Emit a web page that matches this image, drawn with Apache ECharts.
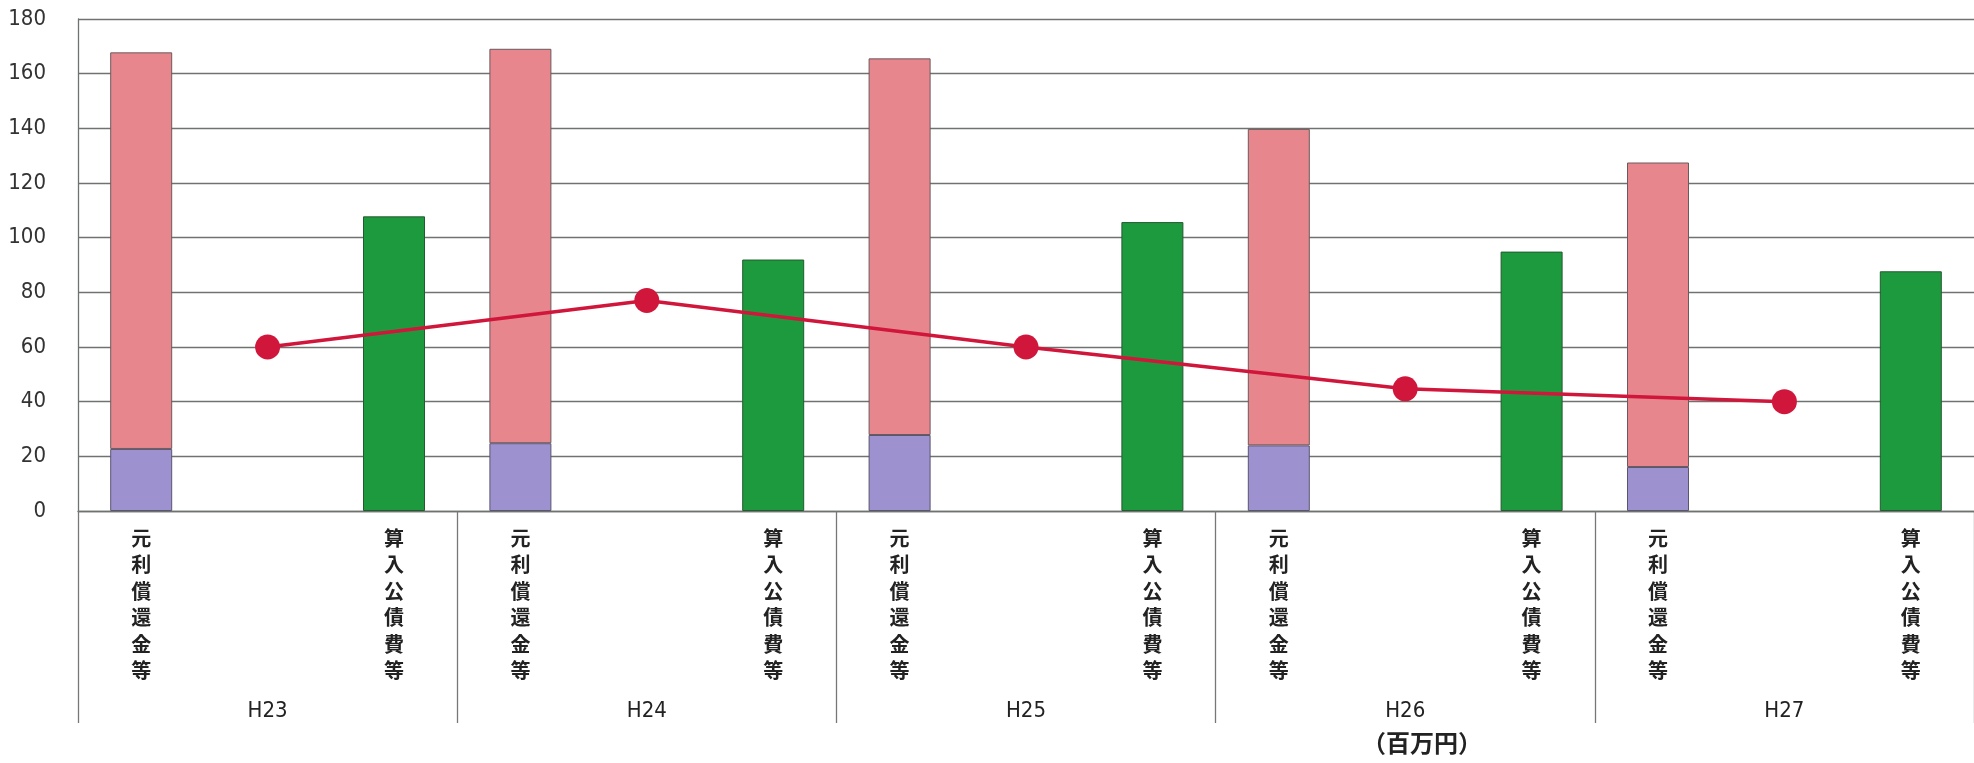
<!DOCTYPE html>
<html>
<head>
<meta charset="utf-8">
<script src="https://cdn.jsdelivr.net/npm/echarts@6/dist/echarts.min.js"></script>
<style>
html,body{margin:0;padding:0;background:#fff;}
#chart{width:1974px;height:763px;}
</style>
</head>
<body>
<div id="chart"></div>
<script>
// ---- data ----
const years = ['H23', 'H24', 'H25', 'H26', 'H27'];
const barNameA = '元利償還金等';
const barNameB = '算入公債費等';
const lowerPart = [22.7, 24.8, 27.8, 24.0, 16.1];      // purple part of 元利償還金等
const totalRepay = [167.8, 169.1, 165.6, 139.8, 127.5]; // 元利償還金等 total
const includedCost = [107.8, 92.0, 105.7, 94.9, 87.7];  // 算入公債費等
const lineValues = [60, 77, 60, 44.7, 40];
const yTicks = [0, 20, 40, 60, 80, 100, 120, 140, 160, 180];
const unitText = '（百万円）';

// ---- build category layout: 3 slots per year ----
const cats = [];
const purpleData = [], pinkData = [], greenData = [], lineData = [];
years.forEach((y, i) => {
  cats.push(barNameA, '', barNameB);
  purpleData.push(lowerPart[i], '-', '-');
  pinkData.push(+(totalRepay[i] - lowerPart[i]).toFixed(1), '-', '-');
  greenData.push('-', '-', includedCost[i]);
  lineData.push('-', lineValues[i], '-');
});

const narrow = "'Liberation Sans Narrow','DejaVu Sans Condensed','Arial Narrow','Liberation Sans',sans-serif";
const cjk = "'Noto Sans CJK JP','Noto Sans',sans-serif";
const gridColor = '#6f7370';

const chart = echarts.init(document.getElementById('chart'));
chart.setOption({
  animation: false,
  backgroundColor: '#fff',
  grid: { left: 78, right: -2, top: 19, bottom: 252, containLabel: false },
  xAxis: [
    {
      type: 'category',
      data: cats,
      position: 'bottom',
      axisLine: { show: true, lineStyle: { color: gridColor, width: 1.3 } },
      axisTick: { show: false },
      axisLabel: {
        interval: 0,
        margin: 14,
        fontFamily: cjk,
        fontWeight: 'bold',
        fontSize: 20,
        lineHeight: 26.5,
        color: '#222',
        formatter: v => v.split('').join('\n')
      }
    },
    {
      type: 'category',
      data: years,
      position: 'bottom',
      axisLine: { show: false },
      axisTick: { show: true, interval: 0, length: 212, lineStyle: { color: '#777', width: 1.3 } },
      axisLabel: {
        interval: 0,
        margin: 189,
        fontFamily: narrow,
        fontSize: 22,
        color: '#222'
      },
      splitLine: { show: false }
    }
  ],
  yAxis: {
    type: 'value',
    min: yTicks[0],
    max: yTicks[yTicks.length - 1],
    interval: 20,
    axisLine: { show: true, lineStyle: { color: gridColor, width: 1.3 } },
    axisTick: { show: false },
    axisLabel: { margin: 32, fontFamily: narrow, fontSize: 22, color: '#333' },
    splitLine: { show: true, lineStyle: { color: gridColor, width: 1.3 } }
  },
  series: [
    {
      type: 'bar', stack: 'a', data: purpleData, barWidth: 62,
      itemStyle: { color: '#9e91cf', borderColor: '#5a5670', borderWidth: 1 }
    },
    {
      type: 'bar', stack: 'a', data: pinkData, barWidth: 62,
      itemStyle: { color: '#e8868e', borderColor: '#6a5a5c', borderWidth: 1 }
    },
    {
      type: 'bar', stack: 'a', data: greenData, barWidth: 62,
      itemStyle: { color: '#1e9a3e', borderColor: '#235a30', borderWidth: 1 }
    },
    {
      type: 'line', data: lineData, connectNulls: true, smooth: false,
      symbol: 'circle', symbolSize: 25, z: 5,
      lineStyle: { color: '#d0163a', width: 3.5 },
      itemStyle: { color: '#d0163a' }
    }
  ],
  graphic: [
    {
      type: 'text', left: 1362, top: 731,
      style: { text: unitText, fontFamily: cjk, fontWeight: 'bold', fontSize: 24, fill: '#222' }
    }
  ]
});
</script>
</body>
</html>
